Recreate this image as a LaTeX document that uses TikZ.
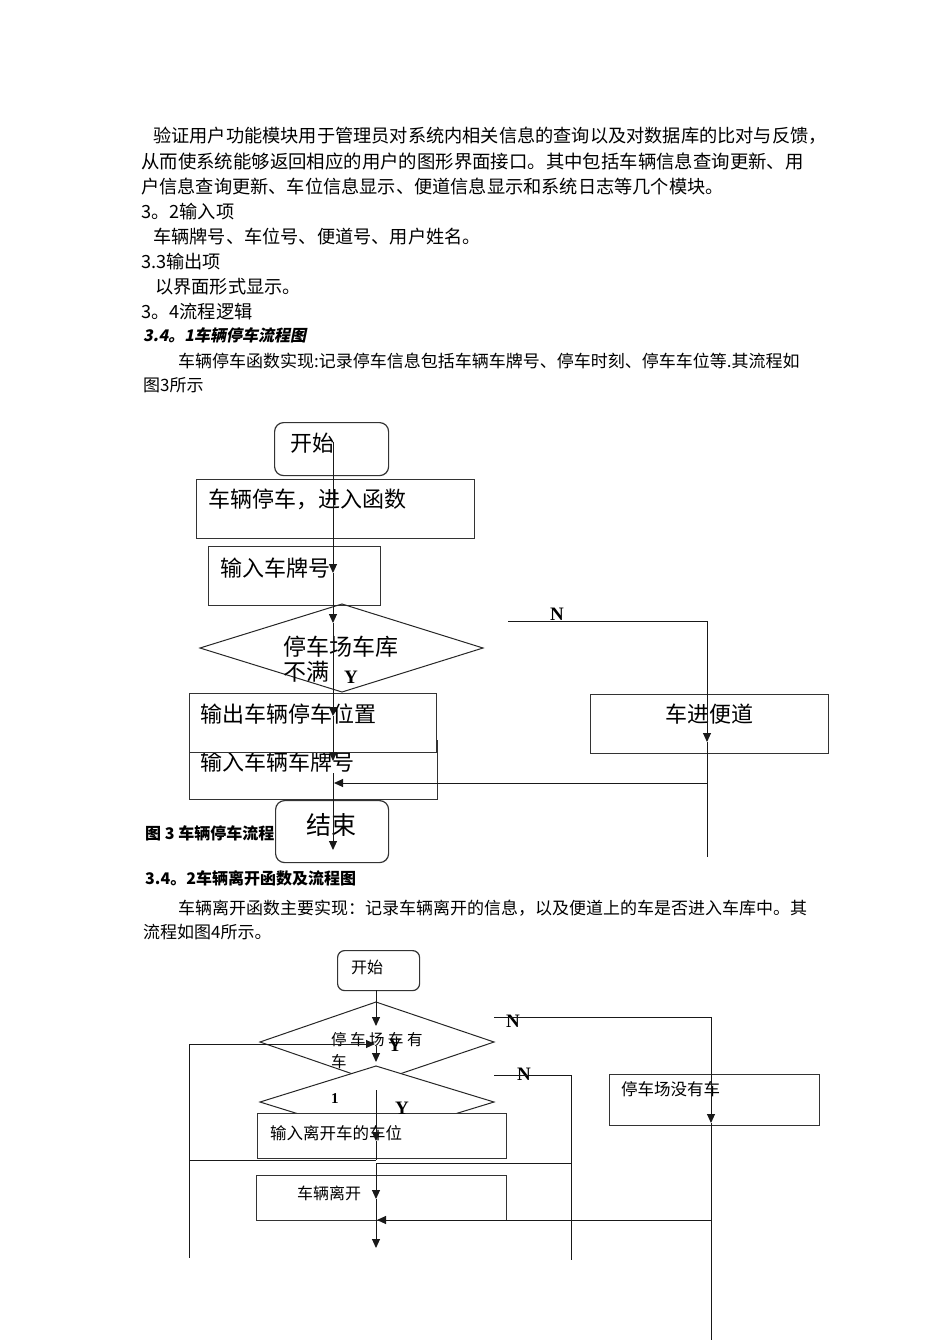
\documentclass[tikz,border=0pt]{standalone}
\usepackage{fontspec}
\setmainfont{Noto Sans CJK SC}
\newfontfamily\tnr{Liberation Serif}
\newfontfamily\cjkslant{Noto Sans CJK SC}[FakeSlant=0.2]
\usetikzlibrary{arrows.meta}
\newcommand{\fsz}[1]{\fontsize{#1}{#1}\selectfont}
\newcommand{\lsp}{\hspace{3.5pt}}
\tikzset{
  box/.style={draw=black!80, line width=1.2pt, fill=white, inner sep=0pt, anchor=north west},
  rbox/.style={box, rounded corners=9pt},
  lbl/.style={anchor=west, inner sep=0pt},
  yn/.style={lbl, font=\tnr\bfseries\fsz{19}},
  conn/.style={line width=1pt, draw=black!90},
  arr/.style={conn, -{Triangle[length=9pt,width=8pt]}},
  dia/.style={draw=black!85, line width=1pt}
}
\begin{document}
\begin{tikzpicture}[x=1pt,y=-1pt]
\useasboundingbox (0,0) rectangle (950,1344);
% ---------- body text ----------
\node[lbl, font=\fsz{18.2}] (p1) at (153,136) {验证用户功能模块用于管理员对系统内相关信息的查询以及对数据库的比对与反馈，};
\node[lbl, font=\fsz{18.4}] (p2) at (141,161) {从而使系统能够返回相应的用户的图形界面接口。其中包括车辆信息查询更新、用};
\node[lbl, font=\fsz{18.2}] (p3) at (141,187) {户信息查询更新、车位信息显示、便道信息显示和系统日志等几个模块。};
\node[lbl, font=\fsz{18.2}] (p4) at (141,212) {3。2输入项};
\node[lbl, font=\fsz{18.2}] (p5) at (153,237) {车辆牌号、车位号、便道号、用户姓名。};
\node[lbl, font=\fsz{18.2}] (p6) at (141,262) {3.3输出项};
\node[lbl, font=\fsz{18.2}] (p7) at (155,287) {以界面形式显示。};
\node[lbl, font=\fsz{18.2}] (p8) at (141,312) {3。4流程逻辑};
\node[lbl, font=\cjkslant\bfseries\fsz{16}] (p9) at (143,335) {3.4。1车辆停车流程图};
\node[lbl, font=\fsz{17}] (p10) at (178,361) {车辆停车函数实现:记录停车信息包括车辆车牌号、停车时刻、停车车位等.其流程如};
\node[lbl, font=\fsz{17}] (p11) at (143,385) {图3所示};
% ---------- flowchart 1 ----------
\node[rbox, minimum width=114pt, minimum height=53pt] (start1) at (274,422) {};
\node[lbl, font=\fsz{22}] (start1t) at (290,443) {开始};
\node[box, minimum width=278pt, minimum height=59pt] (enter) at (196,479) {};
\node[lbl, font=\fsz{22}] (entert) at (208,499) {车辆停车，进入函数};
\node[box, minimum width=172pt, minimum height=59pt] (plate) at (208,546) {};
\node[lbl, font=\fsz{22}] (platet) at (220,568) {输入车牌号};
\draw[dia] (200,648) -- (342,604) -- (483,648) -- (342,692) -- cycle;
\coordinate (full) at (342,648);
\node[lbl, font=\fsz{23}] (fullt1) at (283,647) {停车场车库};
\node[lbl, font=\fsz{23}] (fullt2) at (283,672) {不满};
\node[yn] (y1) at (344,677) {Y};
\node[box, minimum width=248pt, minimum height=59pt] (inplate) at (189,740) {};
\node[lbl, font=\fsz{22}] (inplatet) at (200,762) {输入车辆车牌号};
\node[box, minimum width=247pt, minimum height=59pt] (outpos) at (189,693) {};
\node[lbl, font=\fsz{22}] (outpost) at (200,714) {输出车辆停车位置};
\node[lbl, font=\bfseries\fsz{16}] (cap3) at (145,833) {图 3 车辆停车流程图};
\node[rbox, minimum width=113pt, minimum height=62pt] (end1) at (275,800) {};
\node[lbl, font=\fsz{25}] (end1t) at (306,825) {结束};
\node[box, minimum width=238pt, minimum height=59pt] (side) at (590,694) {};
\node[lbl, font=\fsz{22}] (sidet) at (665,714) {车进便道};
\node[yn] (n1) at (550,614) {N};
% connectors 1
\coordinate (a0) at (333,442);
\coordinate (a1) at (333,573);
\coordinate (a2) at (333,623);
\coordinate (a3) at (333,716);
\coordinate (a4) at (333,761);
\coordinate (a5) at (333,773);
\coordinate (a6) at (333,850);
\draw[arr] (a0) -- (a1);
\draw[arr] (a1) -- (a2);
\draw[arr] (a2) -- (a3);
\draw[arr] (a3) -- (a4);
\draw[arr] (a5) -- (a6);
\coordinate (r1) at (707,783);
\coordinate (l1) at (334,783);
\draw[arr] (r1) -- (l1);
\coordinate (n0) at (508,621);
\coordinate (nc) at (707,621);
\coordinate (n2) at (707,742);
\coordinate (n3) at (707,857);
\draw[arr] (n0) -- (nc) -- (n2);
\draw[conn] (n2) -- (n3);
% ---------- section 3.4.2 ----------
\node[lbl, font=\bfseries\fsz{16}] (h2) at (145,878) {3.4。2车辆离开函数及流程图};
\node[lbl, font=\fsz{17}] (q1) at (178,908) {车辆离开函数主要实现：记录车辆离开的信息，以及便道上的车是否进入车库中。其};
\node[lbl, font=\fsz{17}] (q2) at (143,932) {流程如图4所示。};
% ---------- flowchart 2 ----------
\node[rbox, minimum width=82pt, minimum height=40pt, rounded corners=7pt] (start2) at (337,950) {};
\node[lbl, font=\fsz{16}] (start2t) at (351,967) {开始};
\draw[dia] (260,1042) -- (376,1002) -- (494,1042) -- (376,1082) -- cycle;
\coordinate (has) at (376,1042);
\draw[dia, fill=white] (260,1102) -- (376,1066) -- (494,1102) -- (376,1138) -- cycle;
\coordinate (d2) at (376,1102);
\node[box, minimum width=249pt, minimum height=45pt] (inpos) at (257,1113) {};
\node[lbl, font=\fsz{16.5}] (inpost) at (270,1133) {输入离开车的车位};
\node[box, minimum width=250pt, minimum height=45pt] (leave) at (256,1175) {};
\node[lbl, font=\fsz{16}] (leavet) at (297,1193) {车辆离开};
\node[box, minimum width=210pt, minimum height=51pt] (nocar) at (609,1074) {};
\node[lbl, font=\fsz{16.5}] (nocart) at (621,1089) {停车场没有车};
\node[lbl, font=\fsz{15.5}] (hast1) at (331,1040) {停\lsp 车\lsp 场\lsp 车\lsp 有};
\node[lbl, font=\fsz{15.5}] (hast2) at (331,1062) {车};
\node[yn] (y2) at (388,1045) {Y};
\node[lbl, font=\tnr\bfseries\fsz{15}] (one) at (331,1099) {1};
\node[yn] (y3) at (395,1108) {Y};
\node[yn] (n21) at (506,1021) {N};
\node[yn] (n22) at (517,1074) {N};
% connectors 2
\coordinate (b0) at (376,990);
\coordinate (b1) at (376,1026);
\coordinate (b2) at (376,1046);
\coordinate (b3) at (376,1062);
\coordinate (b4) at (376,1090);
\coordinate (b5) at (376,1141);
\coordinate (b6) at (376,1160);
\coordinate (b7) at (376,1163);
\coordinate (b8) at (376,1199);
\coordinate (b9) at (376,1248);
\draw[arr] (b0) -- (b1);
\draw[arr] (b2) -- (b3);
\draw[arr] (b4) -- (b5);
\draw[conn] (b5) -- (b6);
\draw[arr] (b7) -- (b8);
\draw[arr] (b8) -- (b9);
\coordinate (lf0) at (189,1044);
\coordinate (lf1) at (375,1044);
\coordinate (lf2) at (189,1258);
\coordinate (lf3) at (189,1160);
\draw[arr] (lf0) -- (lf1);
\draw[conn] (lf0) -- (lf2);
\draw[conn] (lf3) -- (b6);
\coordinate (m0) at (494,1075);
\coordinate (m1) at (571,1075);
\coordinate (m2) at (571,1260);
\coordinate (m3) at (571,1163);
\draw[conn] (m0) -- (m1) -- (m2);
\draw[conn] (m3) -- (b7);
\coordinate (k0) at (494,1017);
\coordinate (k1) at (711,1017);
\coordinate (k2) at (711,1123);
\coordinate (k3) at (711,1340);
\coordinate (k4) at (711,1220);
\coordinate (k5) at (377,1220);
\draw[arr] (k0) -- (k1) -- (k2);
\draw[conn] (k2) -- (k3);
\draw[arr] (k4) -- (k5);
\end{tikzpicture}
\end{document}
